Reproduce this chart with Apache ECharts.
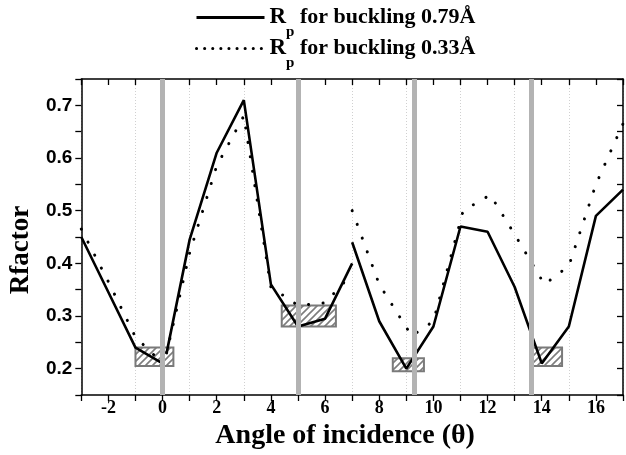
<!DOCTYPE html>
<html>
<head>
<meta charset="utf-8">
<script src="https://cdn.jsdelivr.net/npm/echarts@6/dist/echarts.min.js"></script>
<style>html,body{margin:0;padding:0;background:#fff}#c{width:626px;height:455px}</style>
</head>
<body>
<div id="c"></div>
<script>
// ---- data ----
const nameA = 'Rp for buckling 0.79Å';
const nameB = 'Rp for buckling 0.33Å';

const solid1X = [-3, -2, -1, 0];
const solid1Y = [0.45, 0.345, 0.24, 0.21];
const solid2X = [0.15, 1, 2, 3, 4, 5, 6, 7];
const solid2Y = [0.23, 0.445, 0.61, 0.71, 0.36, 0.28, 0.295, 0.40];
const solid3X = [7, 8, 9, 10, 11, 12, 13, 14, 15, 16, 17];
const solid3Y = [0.44, 0.29, 0.20, 0.28, 0.47, 0.46, 0.355, 0.21, 0.28, 0.49, 0.54];

const dot1X = [-3, -2, -1, 0];
const dot1Y = [0.465, 0.365, 0.26, 0.21];
const dot2X = [0.15, 1, 2, 3, 4, 5, 6, 7];
const dot2Y = [0.23, 0.42, 0.585, 0.68, 0.355, 0.32, 0.325, 0.38];
const dot3X = [7, 8, 9.2, 10, 11.1, 12.1, 13, 14.1, 15, 16, 17];
const dot3Y = [0.50, 0.36, 0.262, 0.29, 0.50, 0.53, 0.455, 0.36, 0.395, 0.55, 0.665];

const bandX = [0, 5, 9.3, 13.6];
const boxX0 = [-1, 4.4, 8.5, 13.6];
const boxX1 = [0.4, 6.4, 9.65, 14.75];
const boxY0 = [0.205, 0.28, 0.195, 0.205];
const boxY1 = [0.24, 0.32, 0.22, 0.24];

const xTicks = [-2, 0, 2, 4, 6, 8, 10, 12, 14, 16];

// ---- helpers ----
const pairs = (xs, ys) => xs.map((x, i) => [x, ys[i]]);
function hatch() {
  const c = document.createElement('canvas');
  c.width = 7; c.height = 7;
  const g = c.getContext('2d');
  g.fillStyle = '#ffffff'; g.fillRect(0, 0, 7, 7);
  g.strokeStyle = '#7d7d7d'; g.lineWidth = 1.6;
  g.beginPath();
  g.moveTo(-1, 8); g.lineTo(8, -1);
  g.moveTo(-4.5, 4.5); g.lineTo(4.5, -4.5);
  g.moveTo(2.5, 11.5); g.lineTo(11.5, 2.5);
  g.stroke();
  return c;
}
const serif = "'Liberation Serif','Times New Roman',serif";
const sans = "'Liberation Sans',Arial,sans-serif";

const solidStyle = { color: '#000', width: 2.6, type: 'solid' };
const dotStyle = { color: '#000', width: 3, type: [0.1, 14.5], cap: 'round' };

function lineSeries(name, data, style) {
  return {
    name, type: 'line', data, symbol: 'none', showSymbol: false,
    lineStyle: style, itemStyle: { color: '#000' }, z: 3, silent: true
  };
}

const legendRich = {
  r: { fontFamily: serif, fontWeight: 'bold', fontSize: 23, lineHeight: 44, color: '#000' },
  s: { fontFamily: serif, fontWeight: 'bold', fontSize: 15, lineHeight: 44, verticalAlign: 'bottom', color: '#000' },
  t: { fontFamily: serif, fontWeight: 'bold', fontSize: 22, lineHeight: 44, color: '#000' }
};
function makeLegend(name, top, lineStyle) {
  return {
    data: [{ name, lineStyle, itemStyle: { opacity: 0, color: 'rgba(0,0,0,0)', borderWidth: 0 } }],
    orient: 'horizontal', left: 195, top, padding: 0, itemWidth: 68, itemHeight: 14,
    formatter: n => '{r|R}{s|p}{t| ' + n.slice(3) + '}',
    textStyle: { color: '#000', rich: legendRich }
  };
}

const chart = echarts.init(document.getElementById('c'), null, { renderer: 'canvas' });
chart.setOption({
  animation: false,
  backgroundColor: '#fff',
  grid: { left: 77, right: 1, top: 79, bottom: 60, containLabel: false },
  legend: [
    makeLegend(nameA, 6, { type: 'solid', width: 3 }),
    makeLegend(nameB, 37, { type: [0.1, 8], width: 3, cap: 'round' })
  ],
  xAxis: [
    {
      type: 'value', position: 'bottom', min: -3, max: 17, interval: 1,
      name: 'Angle of incidence (θ)', nameLocation: 'middle', nameGap: 21,
      nameTextStyle: { fontFamily: serif, fontWeight: 'bold', fontSize: 28, color: '#000', padding: [0, 14, 0, 0] },
      axisLine: { show: true, onZero: false, lineStyle: { color: '#000', width: 1.5 } },
      axisTick: { show: true, inside: false, length: 6, lineStyle: { color: '#000', width: 1.3 } },
      axisLabel: {
        margin: 4, fontFamily: serif, fontWeight: 'bold', fontSize: 18, color: '#000',
        formatter: v => (xTicks.indexOf(Math.round(v)) >= 0 ? String(Math.round(v)) : '')
      },
      splitLine: { show: false }
    },
    {
      type: 'value', position: 'top', min: -3, max: 17, interval: 1,
      axisLine: { show: true, onZero: false, lineStyle: { color: '#000', width: 1.5 } },
      axisTick: { show: true, inside: true, length: 6, lineStyle: { color: '#000', width: 1.3 } },
      axisLabel: { show: false }, splitLine: { show: false }
    },
    {
      type: 'value', position: 'top', min: -3, max: 17, interval: 2,
      axisLine: { show: false }, axisTick: { show: false }, axisLabel: { show: false },
      splitLine: { show: true, lineStyle: { color: '#d0d0d0', width: 1, type: [1, 2] } }
    }
  ],
  yAxis: [
    {
      type: 'value', position: 'left', min: 0.15, max: 0.75, interval: 0.05,
      name: 'Rfactor', nameLocation: 'middle', nameGap: 44,
      nameTextStyle: { fontFamily: serif, fontWeight: 'bold', fontSize: 27, color: '#000', padding: [0, 26, 0, 0] },
      axisLine: { show: true, onZero: false, lineStyle: { color: '#000', width: 1.5 } },
      axisTick: { show: true, inside: false, length: 6, lineStyle: { color: '#000', width: 1.3 } },
      axisLabel: {
        margin: 9, fontFamily: sans, fontWeight: 'bold', fontSize: 19, color: '#000',
        formatter: v => (Math.round(v * 100) % 10 === 0 ? v.toFixed(1) : '')
      },
      splitLine: { show: false }
    },
    {
      type: 'value', position: 'right', min: 0.15, max: 0.75, interval: 0.05,
      axisLine: { show: true, onZero: false, lineStyle: { color: '#000', width: 1.5 } },
      axisTick: { show: true, inside: true, length: 6, lineStyle: { color: '#000', width: 1.3 } },
      axisLabel: { show: false }, splitLine: { show: false }
    }
  ],
  series: [
    {
      name: 'boxes', type: 'scatter', data: [], z: 2, silent: true,
      markArea: {
        silent: true,
        itemStyle: { color: { image: hatch(), repeat: 'repeat' }, borderColor: '#7a7a7a', borderWidth: 2 },
        data: boxX0.map((x0, i) => [{ xAxis: x0, yAxis: boxY1[i] }, { xAxis: boxX1[i], yAxis: boxY0[i] }])
      }
    },
    lineSeries(nameA, pairs(solid1X, solid1Y), solidStyle),
    lineSeries(nameA, pairs(solid2X, solid2Y), solidStyle),
    lineSeries(nameA, pairs(solid3X, solid3Y), solidStyle),
    lineSeries(nameB, pairs(dot1X, dot1Y), dotStyle),
    lineSeries(nameB, pairs(dot2X, dot2Y), dotStyle),
    lineSeries(nameB, pairs(dot3X, dot3Y), dotStyle),
    {
      name: 'bands', type: 'scatter', data: [], z: 5, silent: true,
      markLine: {
        silent: true, symbol: ['none', 'none'], label: { show: false },
        lineStyle: { color: '#b3b3b3', width: 5, type: 'solid' },
        data: bandX.map(x => ({ xAxis: x }))
      }
    }
  ]
});
</script>
</body>
</html>
